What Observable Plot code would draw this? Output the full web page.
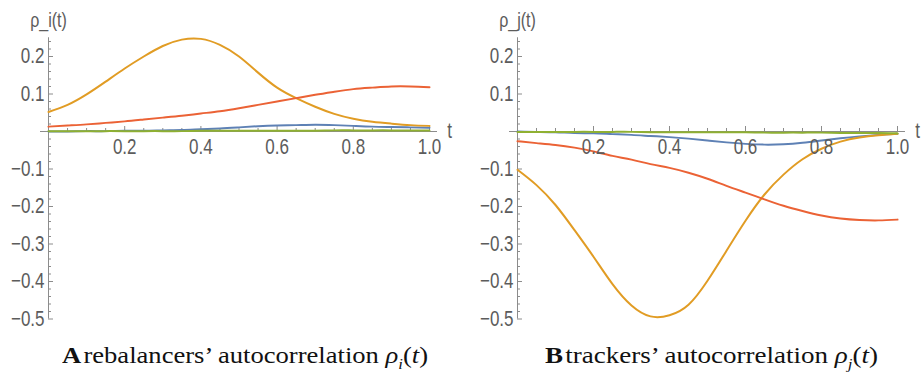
<!DOCTYPE html>
<html>
<head>
<meta charset="utf-8">
<script src="https://cdn.jsdelivr.net/npm/d3@7"></script>
<script src="https://cdn.jsdelivr.net/npm/@observablehq/plot@0.6"></script>
<style>
  html, body { margin: 0; padding: 0; background: #fff; }
  #wrap { position: relative; width: 922px; height: 372px; overflow: hidden; }
  .panel { position: absolute; top: 0; }
  .cap { position: absolute; top: 343px; font-family: "Liberation Serif", "DejaVu Serif", serif; font-size: 24px; line-height: 1; color: #111; white-space: nowrap; transform-origin: 0 20px; }
  .cap b { font-weight: bold; }
</style>
</head>
<body>
<div id="wrap"></div>
<script>
// ---- data ----
const t = [0, 0.05, 0.10, 0.15, 0.20, 0.25, 0.30, 0.35, 0.40, 0.45, 0.50,
           0.55, 0.60, 0.65, 0.70, 0.75, 0.80, 0.85, 0.90, 0.95, 1.00];

// panel A: rebalancers
const aBlue   = [0.000, 0.000, 0.001, 0.001, 0.002, 0.002, 0.003, 0.004, 0.006, 0.008, 0.011,
                 0.014, 0.016, 0.017, 0.018, 0.017, 0.015, 0.013, 0.012, 0.011, 0.010];
const aOrange = [0.052, 0.071, 0.099, 0.133, 0.168, 0.200, 0.228, 0.245, 0.247, 0.231, 0.200,
                 0.157, 0.117, 0.089, 0.066, 0.047, 0.034, 0.026, 0.021, 0.017, 0.015];
const aGreen  = [0.001, 0.001, 0.001, 0.001, 0.001, 0.001, 0.001, 0.001, 0.002, 0.002, 0.002,
                 0.002, 0.002, 0.002, 0.002, 0.003, 0.003, 0.003, 0.003, 0.003, 0.003];
const aRed    = [0.013, 0.016, 0.019, 0.023, 0.027, 0.032, 0.037, 0.042, 0.048, 0.054, 0.062,
                 0.071, 0.080, 0.089, 0.098, 0.106, 0.113, 0.117, 0.120, 0.120, 0.118];

// panel B: trackers
const bBlue   = [0.000, -0.001, -0.002, -0.004, -0.005, -0.007, -0.009, -0.012, -0.015, -0.019, -0.024,
                 -0.029, -0.033, -0.035, -0.034, -0.030, -0.024, -0.018, -0.013, -0.009, -0.006];
const bOrange = [-0.102, -0.143, -0.196, -0.263, -0.334, -0.407, -0.464, -0.493, -0.490, -0.462, -0.398,
                 -0.318, -0.238, -0.168, -0.115, -0.074, -0.046, -0.027, -0.016, -0.010, -0.006];
const bGreen  = [-0.001, -0.001, -0.001, -0.001, -0.001, -0.001, -0.001, -0.002, -0.002, -0.002, -0.002,
                 -0.002, -0.002, -0.003, -0.003, -0.003, -0.003, -0.004, -0.004, -0.004, -0.005];
const bRed    = [-0.026, -0.031, -0.036, -0.043, -0.053, -0.065, -0.075, -0.087, -0.097, -0.110, -0.126,
                 -0.145, -0.163, -0.181, -0.198, -0.212, -0.224, -0.232, -0.236, -0.237, -0.235];

const seriesColors = ["#5E81B5", "#E19C24", "#8FB032", "#EB6235"]; // blue, orange, green, red

// axis ticks
const xMajor = [0.2, 0.4, 0.6, 0.8, 1.0];
const xMinor = [0.05, 0.10, 0.15, 0.25, 0.30, 0.35, 0.45, 0.50, 0.55, 0.65, 0.70, 0.75, 0.85, 0.90, 0.95];
const yMajor = [-0.5, -0.4, -0.3, -0.2, -0.1, 0.1, 0.2];
const yMinor = [-0.48, -0.46, -0.44, -0.42, -0.38, -0.36, -0.34, -0.32, -0.28, -0.26, -0.24, -0.22,
                -0.18, -0.16, -0.14, -0.12, -0.08, -0.06, -0.04, -0.02, 0.02, 0.04, 0.06, 0.08,
                0.12, 0.14, 0.16, 0.18, 0.22, 0.24];
const xDomain = [0, 1];
const yDomain = [-0.5, 0.25];

// ---- layout ----
const W = 461, H = 330;
const mTop = 37.25, mBottom = 11.5;
const pxPerY = (H - mTop - mBottom) / (yDomain[1] - yDomain[0]);
const pxPerX = 381;
const axisColor = "#8c8c8c";
const labelColor = "#5c5c5c";
const sans = "Liberation Sans, Arial, sans-serif";
const textStretch = 1.28;

function fmt(v) {
  const s = v.toFixed(1);
  return v < 0 ? "\u2212" + s.slice(1) : s;
}

function stretchText(svg) {
  svg.querySelectorAll("text").forEach(el => {
    const tr = el.getAttribute("transform");
    if (tr && tr.includes("translate")) {
      el.setAttribute("transform", tr + ` scale(1,${textStretch})`);
    } else {
      const x = +(el.getAttribute("x") || 0), y = +(el.getAttribute("y") || 0);
      el.removeAttribute("x"); el.removeAttribute("y");
      el.setAttribute("transform", `translate(${x},${y}) scale(1,${textStretch})`);
    }
  });
}

function panel(series, yLabel, mLeft, mRight) {
  const maj = 5, mn = 3;
  const lines = series.map((vals, k) =>
    Plot.line(t.map((tt, i) => ({t: tt, v: vals[i]})), {
      x: "t", y: "v", stroke: seriesColors[k], strokeWidth: 2, curve: "natural"
    }));
  const svg = Plot.plot({
    width: W, height: H,
    marginLeft: mLeft, marginRight: mRight, marginTop: mTop, marginBottom: mBottom,
    x: {domain: xDomain, axis: null},
    y: {domain: yDomain, axis: null},
    style: {fontFamily: sans, background: "transparent", overflow: "visible"},
    marks: [
      Plot.ruleY([0], {x1: -8 / pxPerX, x2: 1 + 8 / pxPerX, stroke: axisColor, strokeWidth: 1}),
      Plot.ruleX([0], {y1: yDomain[0], y2: yDomain[1], stroke: axisColor, strokeWidth: 1}),
      Plot.ruleX(xMajor, {x: d => d, y1: 0, y2: maj / pxPerY, stroke: axisColor}),
      Plot.ruleX(xMinor, {x: d => d, y1: 0, y2: mn / pxPerY, stroke: axisColor}),
      Plot.ruleY(yMajor, {y: d => d, x1: 0, x2: maj / pxPerX, stroke: axisColor}),
      Plot.ruleY(yMinor, {y: d => d, x1: 0, x2: mn / pxPerX, stroke: axisColor}),
      ...lines,
      Plot.text(xMajor, {x: d => d, y: 0, text: d => fmt(d), dy: 16, fill: labelColor, fontSize: 17, textAnchor: "middle"}),
      Plot.text(yMajor, {x: 0, y: d => d, text: d => fmt(d), dx: -4, fill: labelColor, fontSize: 17, textAnchor: "end"}),
      Plot.text(["t"], {x: 1, y: 0, text: d => d, dx: 20, fill: labelColor, fontSize: 17, textAnchor: "middle"}),
      Plot.text([yLabel], {x: 0, y: yDomain[1], text: d => d, dy: -17, fill: labelColor, fontSize: 16, textAnchor: "middle"})
    ]
  });
  stretchText(svg);
  return svg;
}

const wrap = document.getElementById("wrap");

const pA = panel([aBlue, aOrange, aGreen, aRed], "\u03C1_i(t)", 48, W - 429);
pA.classList.add("panel"); pA.style.left = "0px";
wrap.appendChild(pA);

const pB = panel([bBlue, bOrange, bGreen, bRed], "\u03C1_j(t)", 56, W - 436);
pB.classList.add("panel"); pB.style.left = "461px";
wrap.appendChild(pB);

function caption(html, left, right) {
  const c = document.createElement("div");
  c.className = "cap";
  c.innerHTML = html;
  wrap.appendChild(c);
  const w = c.getBoundingClientRect().width;
  c.style.left = left + "px";
  c.style.transform = `scaleX(${(right - left) / w})`;
  return c;
}
caption("<b>A</b>&#8202;rebalancers\u2019 autocorrelation <i>\u03C1<sub style='font-size:15px'>i</sub></i>(<i>t</i>)", 62, 428);
caption("<b>B</b>&#8202;trackers\u2019 autocorrelation <i>\u03C1<sub style='font-size:15px'>j</sub></i>(<i>t</i>)", 545, 878);
</script>
</body>
</html>
